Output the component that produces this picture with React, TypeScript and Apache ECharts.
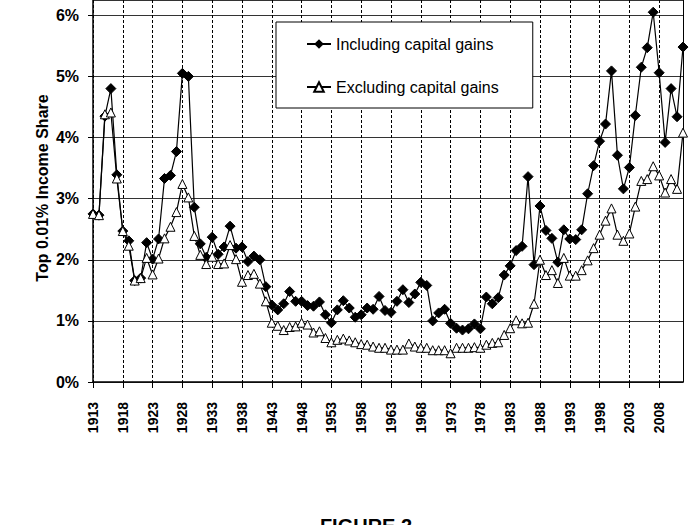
import React, { useEffect, useRef } from "react";
import * as echarts from "echarts";

const years: string[] = [];
for (let y = 1913; y <= 2012; y++) years.push(String(y));

const includingCapitalGains = [
  2.75, 2.73, 4.35, 4.80, 3.39, 2.47, 2.31, 1.66, 1.70, 2.28,
  2.01, 2.34, 3.33, 3.38, 3.77, 5.05, 5.00, 2.86, 2.26, 2.04,
  2.37, 2.09, 2.21, 2.55, 2.19, 2.21, 1.97, 2.06, 2.00, 1.56,
  1.26, 1.18, 1.28, 1.48, 1.32, 1.32, 1.25, 1.24, 1.31, 1.10,
  0.97, 1.18, 1.33, 1.21, 1.06, 1.10, 1.21, 1.19, 1.40, 1.17,
  1.14, 1.32, 1.51, 1.30, 1.44, 1.63, 1.58, 1.00, 1.13, 1.19,
  0.96, 0.88, 0.85, 0.87, 0.95, 0.87, 1.39, 1.28, 1.38, 1.75,
  1.90, 2.15, 2.22, 3.36, 1.92, 2.88, 2.48, 2.35, 1.96, 2.49,
  2.34, 2.33, 2.49, 3.08, 3.54, 3.94, 4.22, 5.09, 3.71, 3.16,
  3.51, 4.36, 5.15, 5.47, 6.05, 5.06, 3.92, 4.80, 4.34, 5.48,
];

const excludingCapitalGains = [
  2.75, 2.73, 4.38, 4.41, 3.33, 2.47, 2.23, 1.66, 1.70, 2.03,
  1.76, 2.02, 2.35, 2.54, 2.78, 3.24, 3.02, 2.39, 2.08, 1.93,
  2.05, 1.93, 1.94, 2.24, 2.01, 1.64, 1.75, 1.77, 1.61, 1.32,
  0.97, 0.92, 0.85, 0.90, 0.91, 0.97, 0.94, 0.81, 0.83, 0.72,
  0.65, 0.69, 0.71, 0.68, 0.65, 0.62, 0.61, 0.58, 0.56, 0.56,
  0.53, 0.53, 0.53, 0.63, 0.58, 0.56, 0.56, 0.52, 0.52, 0.52,
  0.47, 0.56, 0.56, 0.56, 0.57, 0.56, 0.61, 0.64, 0.65, 0.77,
  0.88, 1.01, 0.96, 0.97, 1.28, 2.00, 1.75, 1.83, 1.62, 2.03,
  1.74, 1.74, 1.83, 1.99, 2.19, 2.41, 2.64, 2.84, 2.41, 2.31,
  2.43, 2.87, 3.29, 3.32, 3.53, 3.38, 3.10, 3.32, 3.16, 4.08,
];

const seriesNames = ["Including capital gains", "Excluding capital gains"];
const yAxisTitle = "Top 0.01% Income Share";
const figureTitle = "FIGURE 2";

const FONT = "'Liberation Sans', Arial, sans-serif";
const Y_MAX = 6.25;

export default function App() {
  const ref = useRef<HTMLDivElement>(null);
  useEffect(() => {
    if (!ref.current) return;
    const chart = echarts.init(ref.current, null, { renderer: "svg" });
    chart.setOption({
      animation: false,
      backgroundColor: "#fff",
      textStyle: { fontFamily: FONT },
      grid: {
        left: 93,
        right: 17,
        top: 0,
        bottom: 143,
        show: false,
        containLabel: false,
      },
      legend: {
        data: seriesNames,
        orient: "vertical",
        left: 276,
        top: 22,
        padding: [14, 34, 13, 30],
        itemGap: 27,
        itemWidth: 24,
        itemHeight: 12,
        borderColor: "#000",
        borderWidth: 1,
        borderRadius: 0,
        backgroundColor: "#fff",
        textStyle: { fontFamily: FONT, fontSize: 16, color: "#000" },
      },
      xAxis: {
        type: "category",
        data: years,
        boundaryGap: false,
        axisLine: { lineStyle: { color: "#000", width: 1.5 } },
        axisTick: { interval: 4, length: 6, lineStyle: { color: "#000" } },
        axisLabel: {
          interval: 4,
          rotate: 90,
          margin: 20,
          fontFamily: FONT,
          fontSize: 14,
          fontWeight: "bold",
          color: "#000",
        },
        splitLine: {
          show: true,
          interval: 4,
          lineStyle: { color: "#000", type: [3, 2], width: 1 },
        },
      },
      yAxis: [
        {
          type: "value",
          min: 0,
          max: Y_MAX,
          interval: 1,
          axisLine: { show: true, lineStyle: { color: "#000", width: 1.5 } },
          axisTick: { show: true, length: 5, lineStyle: { color: "#000" } },
          axisLabel: {
            formatter: (v: number) => (Number.isInteger(v) ? `${v}%` : ""),
            showMaxLabel: false,
            margin: 14,
            fontFamily: FONT,
            fontSize: 16,
            fontWeight: "bold",
            color: "#000",
          },
          splitLine: { show: true, lineStyle: { color: "#333", width: 1 } },
        },
        {
          type: "value",
          position: "right",
          min: 0,
          max: Y_MAX,
          interval: 1,
          axisLine: { show: true, lineStyle: { color: "#000", width: 1 } },
          axisTick: { show: false },
          axisLabel: { show: false },
          splitLine: { show: false },
        },
      ],
      graphic: [
        {
          type: "text",
          x: 42,
          y: 188,
          rotation: Math.PI / 2,
          style: {
            text: yAxisTitle,
            font: `bold 16px ${FONT}`,
            fill: "#000",
            align: "center",
            verticalAlign: "middle",
          },
        },
        {
          type: "text",
          x: 366,
          y: 516,
          style: {
            text: figureTitle,
            font: `bold 20px ${FONT}`,
            fill: "#000",
            align: "center",
            verticalAlign: "top",
          },
        },
      ],
      series: [
        {
          name: seriesNames[0],
          type: "line",
          data: includingCapitalGains,
          symbol: "diamond",
          symbolSize: 10,
          showAllSymbol: true,
          lineStyle: { color: "#000", width: 1.2 },
          itemStyle: { color: "#000", borderColor: "#000" },
          z: 2,
        },
        {
          name: seriesNames[1],
          type: "line",
          data: excludingCapitalGains,
          symbol: "triangle",
          symbolSize: 9,
          showAllSymbol: true,
          lineStyle: { color: "#000", width: 1.2 },
          itemStyle: { color: "#fff", borderColor: "#000", borderWidth: 1 },
          z: 3,
        },
      ],
    });
    return () => chart.dispose();
  }, []);
  return (
    <div
      ref={ref}
      style={{ position: "fixed", left: 0, top: 0, width: 700, height: 525 }}
    />
  );
}
